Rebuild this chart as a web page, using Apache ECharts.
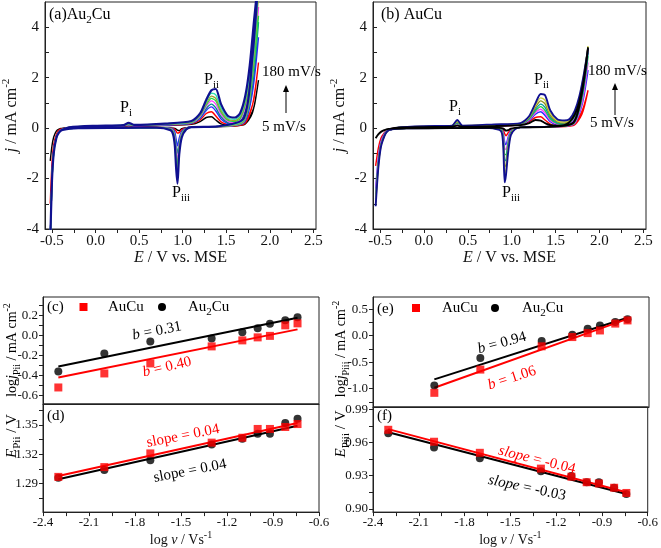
<!DOCTYPE html>
<html><head><meta charset="utf-8">
<script src="https://cdn.jsdelivr.net/npm/echarts@6/dist/echarts.min.js"></script>
<style>html,body{margin:0;padding:0;background:#fff}#c{width:661px;height:548px}</style>
</head><body><div id="c"></div>
<script>
const FONT = 'Liberation Serif';
// ---------- CV data (top panels) ----------
const scanRates = ['5 mV/s','10 mV/s','20 mV/s','50 mV/s','80 mV/s','100 mV/s','120 mV/s','150 mV/s','180 mV/s'];
const EA  = [-0.38,-0.30,0.00,0.32,0.38,0.44,0.80,1.10,1.20,1.27,1.33,1.38,1.44,1.52,1.60,1.66,1.72,1.77,1.82,1.87];
const ECa = [1.87,1.80,1.70,1.40,1.10,1.04,0.99,0.96,0.94,0.925,0.91,0.89,0.86,0.70,0.30,-0.20,-0.38,-0.42,-0.45,-0.48,-0.50,-0.52];
const ECb = [1.87,1.80,1.70,1.40,1.10,1.04,0.99,0.96,0.935,0.92,0.905,0.89,0.86,0.70,0.30,-0.20,-0.38,-0.42,-0.45,-0.49,-0.52,-0.55];

const Au2Cu_anodic = [
 [0.00,0.03,0.05,0.07,0.09,0.07,0.10,0.15,0.26,0.42,0.45,0.32,0.17,0.12,0.11,0.14,0.25,0.45,0.85,1.90],
 [-0.02,0.03,0.06,0.08,0.10,0.08,0.11,0.17,0.32,0.58,0.65,0.48,0.25,0.14,0.12,0.15,0.30,0.60,1.20,2.60],
 [-0.03,0.03,0.06,0.09,0.12,0.09,0.12,0.19,0.38,0.70,0.84,0.68,0.36,0.18,0.14,0.20,0.55,1.10,2.20,3.60],
 [-0.04,0.03,0.07,0.10,0.13,0.10,0.13,0.20,0.42,0.78,0.95,0.80,0.45,0.22,0.17,0.25,0.70,1.40,2.70,4.20],
 [-0.05,0.03,0.07,0.10,0.14,0.10,0.14,0.22,0.46,0.86,1.08,0.95,0.55,0.27,0.22,0.32,0.85,1.65,3.10,4.80],
 [-0.05,0.03,0.08,0.11,0.15,0.11,0.15,0.23,0.50,0.92,1.18,1.08,0.63,0.31,0.26,0.38,0.95,1.80,3.20,4.45],
 [-0.06,0.03,0.08,0.11,0.16,0.11,0.16,0.24,0.52,0.98,1.27,1.18,0.70,0.35,0.30,0.45,1.05,2.00,3.60,5.30],
 [-0.06,0.03,0.09,0.12,0.18,0.12,0.17,0.26,0.55,1.05,1.38,1.32,0.80,0.40,0.35,0.52,1.15,2.20,3.90,5.60],
 [-0.07,0.03,0.09,0.12,0.21,0.13,0.18,0.28,0.58,1.12,1.50,1.55,0.95,0.48,0.42,0.60,1.30,2.50,4.30,6.00]
];
const Au2Cu_cathodic = [
 [1.90,0.60,0.13,0.06,0.04,0.02,-0.02,-0.10,-0.08,-0.04,-0.01,0.00,0.01,0.02,0.01,0.00,0.00,-0.04,-0.12,-0.35,-0.70,-1.30],
 [2.60,0.90,0.15,0.06,0.04,0.01,-0.06,-0.18,-0.20,-0.12,-0.05,-0.01,0.00,0.02,0.01,0.00,-0.02,-0.08,-0.25,-0.65,-1.40,-3.00],
 [3.60,1.40,0.20,0.06,0.04,0.00,-0.12,-0.40,-0.70,-0.45,-0.15,-0.04,0.00,0.02,0.01,0.00,-0.04,-0.13,-0.33,-0.85,-1.90,-4.50],
 [4.20,1.70,0.22,0.06,0.04,-0.01,-0.16,-0.55,-1.00,-0.70,-0.25,-0.07,-0.01,0.02,0.01,0.00,-0.05,-0.15,-0.36,-0.92,-2.10,-4.50],
 [4.80,2.00,0.25,0.06,0.04,-0.02,-0.20,-0.65,-1.25,-0.90,-0.35,-0.10,-0.02,0.02,0.01,0.00,-0.05,-0.15,-0.36,-0.92,-2.10,-4.50],
 [4.45,2.00,0.27,0.06,0.04,-0.02,-0.24,-0.75,-1.50,-1.10,-0.45,-0.13,-0.03,0.02,0.01,0.00,-0.06,-0.16,-0.38,-0.95,-2.10,-4.50],
 [5.30,2.30,0.30,0.06,0.04,-0.03,-0.28,-0.85,-1.75,-1.30,-0.55,-0.16,-0.04,0.02,0.01,0.00,-0.06,-0.16,-0.38,-0.95,-2.10,-4.50],
 [5.60,2.50,0.33,0.07,0.04,-0.04,-0.32,-0.95,-1.95,-1.45,-0.62,-0.20,-0.06,0.02,0.01,0.00,-0.06,-0.17,-0.40,-1.00,-2.10,-4.50],
 [6.00,2.80,0.38,0.07,0.04,-0.05,-0.36,-1.05,-2.20,-1.60,-0.70,-0.25,-0.08,0.02,0.01,0.00,-0.07,-0.18,-0.40,-1.00,-2.10,-4.50]
];
const AuCu_anodic = [
 [-0.02,0.02,0.04,0.06,0.10,0.06,0.08,0.12,0.20,0.32,0.30,0.20,0.12,0.10,0.12,0.25,0.55,1.05,1.90,3.20],
 [-0.03,0.02,0.04,0.06,0.11,0.06,0.08,0.13,0.26,0.42,0.45,0.32,0.16,0.08,0.07,0.10,0.22,0.45,0.85,1.50],
 [-0.04,0.02,0.05,0.07,0.14,0.07,0.09,0.14,0.30,0.55,0.65,0.50,0.25,0.12,0.10,0.15,0.35,0.70,1.30,2.30],
 [-0.05,0.02,0.05,0.08,0.17,0.08,0.10,0.15,0.33,0.62,0.75,0.60,0.30,0.15,0.12,0.18,0.42,0.85,1.55,2.60],
 [-0.06,0.02,0.06,0.08,0.19,0.08,0.11,0.16,0.36,0.68,0.85,0.70,0.36,0.18,0.14,0.21,0.48,0.95,1.75,2.85],
 [-0.06,0.02,0.06,0.09,0.21,0.09,0.12,0.17,0.39,0.74,0.95,0.82,0.42,0.21,0.17,0.24,0.54,1.05,1.90,3.00],
 [-0.07,0.02,0.07,0.09,0.24,0.09,0.13,0.18,0.42,0.82,1.08,0.96,0.50,0.25,0.20,0.28,0.60,1.15,2.05,3.20],
 [-0.07,0.02,0.07,0.10,0.27,0.10,0.14,0.19,0.45,0.90,1.20,1.10,0.58,0.29,0.24,0.31,0.64,1.20,2.10,3.25],
 [-0.08,0.02,0.08,0.10,0.32,0.10,0.15,0.20,0.48,0.98,1.35,1.30,0.70,0.35,0.30,0.36,0.70,1.25,2.10,3.15]
];
const AuCu_cathodic = [
 [3.20,1.40,0.20,0.05,0.03,0.01,-0.02,-0.08,-0.10,-0.06,-0.02,0.00,0.01,0.01,0.00,-0.01,-0.02,-0.04,-0.08,-0.15,-0.25,-0.40],
 [1.50,0.55,0.10,0.04,0.03,0.00,-0.06,-0.18,-0.30,-0.22,-0.08,-0.02,0.00,0.01,0.00,-0.01,-0.03,-0.08,-0.18,-0.40,-0.80,-1.50],
 [2.30,0.90,0.14,0.05,0.03,-0.01,-0.10,-0.35,-0.65,-0.55,-0.20,-0.05,-0.01,0.01,0.00,-0.01,-0.04,-0.10,-0.22,-0.55,-1.20,-2.40],
 [2.60,1.00,0.15,0.05,0.03,-0.01,-0.13,-0.45,-0.85,-0.80,-0.30,-0.08,-0.02,0.01,0.00,-0.01,-0.04,-0.11,-0.25,-0.60,-1.30,-2.60],
 [2.85,1.15,0.17,0.05,0.03,-0.02,-0.16,-0.55,-1.05,-1.05,-0.40,-0.10,-0.03,0.01,0.00,-0.01,-0.05,-0.12,-0.27,-0.65,-1.40,-2.80],
 [3.00,1.25,0.18,0.05,0.03,-0.02,-0.19,-0.65,-1.25,-1.30,-0.50,-0.13,-0.04,0.01,0.00,-0.01,-0.05,-0.12,-0.28,-0.68,-1.45,-2.90],
 [3.20,1.35,0.19,0.05,0.03,-0.03,-0.22,-0.75,-1.45,-1.55,-0.60,-0.16,-0.05,0.01,0.00,-0.01,-0.05,-0.13,-0.30,-0.70,-1.50,-3.00],
 [3.25,1.40,0.20,0.05,0.03,-0.03,-0.25,-0.85,-1.65,-1.80,-0.70,-0.19,-0.06,0.01,0.00,-0.01,-0.06,-0.14,-0.31,-0.72,-1.55,-3.05],
 [3.15,1.40,0.22,0.06,0.03,-0.04,-0.28,-0.95,-1.85,-2.15,-0.80,-0.22,-0.07,0.01,0.00,-0.01,-0.06,-0.14,-0.32,-0.75,-1.60,-3.10]
];
const colorsA = ['#000000','#ff0000','#2b2bff','#008b8b','#ff40ff','#22dd44','#a0a030','#30e0b0','#101090'];
const colorsB = ['#000000','#ff0000','#2b2bff','#ff40ff','#22cc44','#00a0a0','#909020','#c8d040','#101090'];

// ---------- kinetics data (bottom panels) ----------
const logV   = [-2.30,-2.00,-1.70,-1.30,-1.10,-1.00,-0.92,-0.82,-0.74];
const logV_e = [-2.00,-1.70,-1.30,-1.10,-1.00,-0.92,-0.82,-0.74];
const logjPii_AuCu   = [-0.52,-0.38,-0.28,-0.11,-0.05,-0.02,-0.005,0.10,0.12];
const logjPii_Au2Cu  = [-0.36,-0.18,-0.06,-0.03,0.03,0.07,0.115,0.15,0.18];
const fitPii_AuCu    = [[-2.30,-0.42],[-0.74,0.06]];
const fitPii_Au2Cu   = [[-2.30,-0.31],[-0.74,0.175]];
const EPii_AuCu      = [1.297,1.307,1.321,1.332,1.337,1.346,1.346,1.348,1.351];
const EPii_Au2Cu     = [1.296,1.304,1.314,1.330,1.336,1.341,1.341,1.352,1.3565];
const fitEPii_AuCu   = [[-2.30,1.2978],[-0.74,1.352]];
const fitEPii_Au2Cu  = [[-2.30,1.2946],[-0.74,1.3493]];
const logjPiii_AuCu  = [-1.08,-0.64,-0.20,-0.025,0.05,0.10,0.23,0.29];
const logjPiii_Au2Cu = [-0.94,-0.42,-0.10,0.02,0.13,0.195,0.26,0.31];
const fitPiii_AuCu   = [[-2.00,-0.983],[-0.74,0.32]];
const fitPiii_Au2Cu  = [[-2.00,-0.825],[-0.74,0.34]];
const EPiii_AuCu     = [0.9714,0.9606,0.9506,0.9363,0.929,0.924,0.9229,0.919,0.9143];
const EPiii_Au2Cu    = [0.9683,0.9554,0.9457,0.934,0.9297,0.924,0.924,0.919,0.9134];
const fitEPiii_AuCu  = [[-2.30,0.972],[-0.74,0.9149]];
const fitEPiii_Au2Cu = [[-2.30,0.9691],[-0.74,0.9134]];

// ---------- tick labels ----------
const xLabelsTop = [-0.5,0,0.5,1,1.5,2,2.5];
const xTicksTop  = [-0.5,-0.25,0,0.25,0.5,0.75,1,1.25,1.5,1.75,2,2.25,2.5];
const yLabelsTop = [-4,-2,0,2,4];
const yTicksTop  = [-4,-3,-2,-1,0,1,2,3,4];
const xLabelsBot = [-2.4,-2.1,-1.8,-1.5,-1.2,-0.9,-0.6];
const xTicksBot  = [-2.4,-2.25,-2.1,-1.95,-1.8,-1.65,-1.5,-1.35,-1.2,-1.05,-0.9,-0.75,-0.6];
const yLabelsC = [-0.6,-0.4,-0.2,0,0.2];
const yTicksC  = [-0.6,-0.5,-0.4,-0.3,-0.2,-0.1,0,0.1,0.2,0.3];
const yLabelsD = [1.29,1.32,1.35];
const yTicksD  = [1.275,1.29,1.305,1.32,1.335,1.35,1.365];
const yLabelsE = [-1.0,-0.5,0,0.5];
const yTicksE  = [-1.25,-1,-0.75,-0.5,-0.25,0,0.25,0.5];
const yLabelsF = [0.90,0.93,0.96,0.99];
const yTicksF  = [0.90,0.915,0.93,0.945,0.96,0.975,0.99];

// ---------- helpers ----------
const AX = '#222';
// rich styles for ECharts text (axis names)
function richSet(size, color) {
  const s = Math.round(size*0.7);
  return {
    n:{fontSize:size,fontFamily:FONT,color:color,lineHeight:size+6},
    i:{fontSize:size,fontFamily:FONT,fontStyle:'italic',color:color,lineHeight:size+6},
    s:{fontSize:s,fontFamily:FONT,color:color,verticalAlign:'bottom'},
    p:{fontSize:s,fontFamily:FONT,color:color,verticalAlign:'top'}
  };
}
// rich styles for zrender graphic text
function richZr(size, color) {
  const s = Math.round(size*0.7);
  const f = (st, sz) => st + sz + 'px "' + FONT + '"';
  return {
    n:{font:f('', size),fill:color,lineHeight:size+6},
    i:{font:f('italic ', size),fill:color,lineHeight:size+6},
    s:{font:f('', s),fill:color,verticalAlign:'bottom'},
    p:{font:f('', s),fill:color,verticalAlign:'top'}
  };
}
function loopData(Ean, jan, Eca, jca) {
  const pts = [];
  for (let i = 0; i < Ean.length; i++) pts.push([Ean[i], jan[i]]);
  for (let i = 0; i < Eca.length; i++) pts.push([Eca[i], jca[i]]);
  return pts;
}
function xy(xs, ys) { return xs.map((x, i) => [x, ys[i]]); }

function xAxisTop(g) {
  return {gridIndex:g, type:'value', min:-0.58, max:2.53,
    axisLine:{show:true,onZero:false,lineStyle:{color:AX,width:1}},
    axisTick:{show:true,inside:false,length:4,customValues:xTicksTop,lineStyle:{color:AX}},
    axisLabel:{customValues:xLabelsTop,formatter:v=>v.toFixed(1),fontSize:15,fontFamily:FONT,color:'#111',margin:5},
    splitLine:{show:false},
    name:'{i|E}{n| / V vs. MSE}', nameLocation:'middle', nameGap:18,
    nameTextStyle:{rich:richSet(16,'#111')}};
}
function yAxisTop(g) {
  return {gridIndex:g, type:'value', min:-4, max:5,
    axisLine:{show:true,onZero:false,lineStyle:{color:AX,width:1}},
    axisTick:{show:true,inside:true,length:4,customValues:yTicksTop,lineStyle:{color:AX}},
    axisLabel:{customValues:yLabelsTop,fontSize:15,fontFamily:FONT,color:'#111',margin:6},
    splitLine:{show:false},
    name:'{i|j}{n| / mA cm}{p|-2}', nameLocation:'middle', nameGap:22, nameRotate:90,
    nameTextStyle:{rich:richSet(16,'#111')}};
}
function xAxisBot(g, labels) {
  return {gridIndex:g, type:'value', min:-2.4, max:-0.6,
    axisLine:{show:true,onZero:false,lineStyle:{color:AX,width:1}},
    axisTick:{show:labels,inside:false,length:4,customValues:xTicksBot,lineStyle:{color:AX}},
    axisLabel:{show:labels,customValues:xLabelsBot,formatter:v=>v.toFixed(1),fontSize:13,fontFamily:FONT,color:'#111',margin:4},
    splitLine:{show:false},
    name: labels ? '{n|log }{i|v}{n| / Vs}{p|-1}' : '', nameLocation:'middle', nameGap:12,
    nameTextStyle:{rich:richSet(14,'#111')}};
}
function yAxisBot(g, min, max, labels, ticks, dec) {
  return {gridIndex:g, type:'value', min:min, max:max,
    axisLine:{show:true,onZero:false,lineStyle:{color:AX,width:1}},
    axisTick:{show:true,inside:false,length:4,customValues:ticks,lineStyle:{color:AX}},
    axisLabel:{customValues:labels,formatter:v=>v.toFixed(dec),fontSize:13,fontFamily:FONT,color:'#111',margin:5},
    splitLine:{show:false}};
}

const grids = [
  {left:43, top:2, width:273, height:227},
  {left:373, top:2, width:273, height:227},
  {left:43, top:297, width:276, height:107},
  {left:43, top:404, width:276, height:113},
  {left:373, top:297, width:276, height:110},
  {left:373, top:407, width:276, height:110}
].map(g => Object.assign({show:true, borderColor:AX, borderWidth:1, backgroundColor:'transparent', containLabel:false}, g));

const series = [];
for (let k = 0; k < 9; k++) {
  series.push({type:'line', name:'Au2Cu '+scanRates[k], xAxisIndex:0, yAxisIndex:0,
    data: loopData(EA, Au2Cu_anodic[k], ECa, Au2Cu_cathodic[k]),
    showSymbol:false, smooth:0.25, clip:true, silent:true,
    lineStyle:{color:colorsA[k], width:k===8?2.2:1.4}, z:2+k});
}
const orderB = [1,2,3,4,5,6,7,8,0];
orderB.forEach((k, n) => {
  series.push({type:'line', name:'AuCu '+scanRates[k], xAxisIndex:1, yAxisIndex:1,
    data: loopData(EA, AuCu_anodic[k], ECb, AuCu_cathodic[k]),
    showSymbol:false, smooth:0.25, clip:true, silent:true,
    lineStyle:{color:colorsB[k], width:(k===8||k===0)?1.9:1.4}, z:2+n});
});
function fitLine(ix, data, color) {
  return {type:'line', xAxisIndex:ix, yAxisIndex:ix, data:data, showSymbol:false, silent:true,
    lineStyle:{color:color, width:2}, z:3};
}
function pts(ix, xs, ys, sym, color) {
  return {type:'scatter', xAxisIndex:ix, yAxisIndex:ix, data:xy(xs, ys), symbol:sym, symbolSize:8,
    itemStyle:{color:color}, silent:true, z:5};
}
series.push(fitLine(2, fitPii_Au2Cu, '#000'), fitLine(2, fitPii_AuCu, '#ff0000'),
  pts(2, logV, logjPii_Au2Cu, 'circle', '#000'), pts(2, logV, logjPii_AuCu, 'rect', '#ff0000'));
series.push(fitLine(3, fitEPii_Au2Cu, '#000'), fitLine(3, fitEPii_AuCu, '#ff0000'),
  pts(3, logV, EPii_Au2Cu, 'circle', '#000'), pts(3, logV, EPii_AuCu, 'rect', '#ff0000'));
series.push(fitLine(4, fitPiii_Au2Cu, '#000'), fitLine(4, fitPiii_AuCu, '#ff0000'),
  pts(4, logV_e, logjPiii_Au2Cu, 'circle', '#000'), pts(4, logV_e, logjPiii_AuCu, 'rect', '#ff0000'));
series.push(fitLine(5, fitEPiii_Au2Cu, '#000'), fitLine(5, fitEPiii_AuCu, '#ff0000'),
  pts(5, logV, EPiii_Au2Cu, 'circle', '#000'), pts(5, logV, EPiii_AuCu, 'rect', '#ff0000'));

// ---------- annotations ----------
function txt(x, y, text, o) {
  o = o || {};
  const size = o.size || 15, color = o.color || '#000';
  return {type:'text', x:x, y:y, rotation:(o.rot||0)*Math.PI/180, z:100, silent:true,
    style:{text:text, fill:color, font: size + 'px "' + FONT + '"',
      align:o.align||'left', verticalAlign:'middle', rich:richZr(size, color)}};
}
function arrow(x, y1, y2) {
  return [
    {type:'line', z:100, silent:true, shape:{x1:x, y1:y1, x2:x, y2:y2+5}, style:{stroke:'#000', lineWidth:1}},
    {type:'polygon', z:100, silent:true, shape:{points:[[x,y2],[x-3,y2+7],[x+3,y2+7]]}, style:{fill:'#000'}}
  ];
}
const graphic = [
  txt(49, 15, '{n|(a)Au}{s|2}{n|Cu}', {size:16}),
  txt(120, 108, '{n|P}{s|i}', {size:16}),
  txt(204, 80, '{n|P}{s|ii}', {size:16}),
  txt(172, 193, '{n|P}{s|iii}', {size:16}),
  txt(262, 72, '{n|180 mV/s}', {size:15}),
  txt(262, 127, '{n|5 mV/s}', {size:15}),
  ...arrow(286, 113, 85),
  txt(381, 15, '{n|(b) AuCu}', {size:16}),
  txt(449, 107, '{n|P}{s|i}', {size:16}),
  txt(534, 80, '{n|P}{s|ii}', {size:16}),
  txt(502, 193, '{n|P}{s|iii}', {size:16}),
  txt(588, 71, '{n|180 mV/s}', {size:15}),
  txt(590, 123, '{n|5 mV/s}', {size:15}),
  ...arrow(615, 115, 83),
  // panel c
  txt(47, 307, '{n|(c)}', {size:15}),
  {type:'rect', z:100, silent:true, shape:{x:79.5, y:303, width:8, height:8}, style:{fill:'#ff0000'}},
  txt(108, 307, '{n|AuCu}', {size:15}),
  {type:'circle', z:100, silent:true, shape:{cx:162, cy:307, r:4}, style:{fill:'#000'}},
  txt(188, 307, '{n|Au}{s|2}{n|Cu}', {size:15}),
  txt(157, 331, '{i|b}{n| = 0.31}', {size:15, rot:11, align:'center'}),
  txt(167, 367, '{i|b}{n| = 0.40}', {size:15, rot:13, align:'center', color:'#ff0000'}),
  // panel d
  txt(47, 416, '{n|(d)}', {size:15}),
  txt(183, 436, '{n|slope = 0.04}', {size:15, rot:11, align:'center', color:'#ff0000'}),
  txt(190, 471, '{n|slope = 0.04}', {size:15, rot:11, align:'center'}),
  // panel e
  txt(377, 309, '{n|(e)}', {size:15}),
  {type:'rect', z:100, silent:true, shape:{x:412, y:304, width:8, height:8}, style:{fill:'#ff0000'}},
  txt(442, 308, '{n|AuCu}', {size:15}),
  {type:'circle', z:100, silent:true, shape:{cx:495, cy:308, r:4}, style:{fill:'#000'}},
  txt(522, 308, '{n|Au}{s|2}{n|Cu}', {size:15}),
  txt(502, 343, '{i|b}{n| = 0.94}', {size:15, rot:15, align:'center'}),
  txt(512, 378, '{i|b}{n| = 1.06}', {size:15, rot:18, align:'center', color:'#ff0000'}),
  // panel f
  txt(377, 416, '{n|(f)}', {size:15}),
  txt(537, 460, '{i|slope}{n| = -0.04}', {size:15, rot:-14, align:'center', color:'#ff0000'}),
  txt(527, 488, '{i|slope}{n| = -0.03}', {size:15, rot:-12, align:'center'}),
  // bottom y-axis names
  txt(12, 350, '{n|log}{i|j}{s|Pii}{n| / mA cm}{p|-2}', {size:14, rot:90, align:'center'}),
  txt(12, 436, '{i|E}{s|Pii}{n| / V}', {size:15, rot:90, align:'center'}),
  txt(341, 349, '{n|log}{i|j}{s|Piii}{n| / mA cm}{p|-2}', {size:14, rot:90, align:'center'}),
  txt(341, 434, '{i|E}{s|Piii}{n| / V}', {size:15, rot:90, align:'center'})
];

const option = {
  animation:false,
  backgroundColor:'#fff',
  grid: grids,
  xAxis: [xAxisTop(0), xAxisTop(1), xAxisBot(2,false), xAxisBot(3,true), xAxisBot(4,false), xAxisBot(5,true)],
  yAxis: [yAxisTop(0), yAxisTop(1),
    yAxisBot(2, -0.685, 0.383, yLabelsC, yTicksC, 1),
    yAxisBot(3, 1.261, 1.3715, yLabelsD, yTicksD, 2),
    yAxisBot(4, -1.348, 0.733, yLabelsE, yTicksE, 1),
    yAxisBot(5, 0.897, 0.992, yLabelsF, yTicksF, 2)],
  series: series,
  graphic: graphic
};
const chart = echarts.init(document.getElementById('c'), null, {renderer:'canvas'});
chart.setOption(option);
</script></body></html>
